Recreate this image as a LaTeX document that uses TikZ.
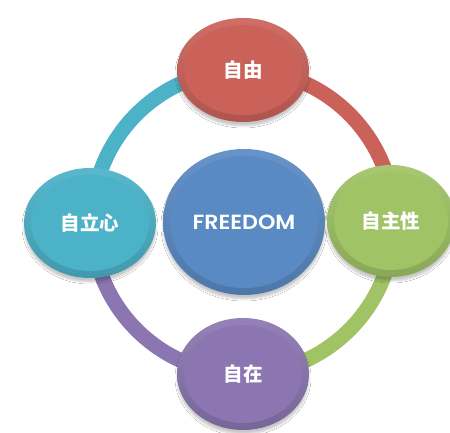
\documentclass[tikz,border=0pt]{standalone}
\usepackage{fontspec}
\newfontfamily\cjk{Noto Sans CJK SC}
\newfontfamily\latinf{Poppins}[UprightFont={* SemiBold}]
\usetikzlibrary{shapes.geometric,shadows.blur}
\definecolor{cRed}{HTML}{CB625A}
\definecolor{cBlue}{HTML}{5A8AC4}
\definecolor{cCyan}{HTML}{4BB2C8}
\definecolor{cGreen}{HTML}{A0C365}
\definecolor{cPurple}{HTML}{8B76B1}
\tikzset{
  bubble/.style n args={3}{ellipse, inner sep=0pt,
    minimum width=2*#2, minimum height=2*#3,
    top color=#1!92!white, bottom color=#1!86!black,
    blur shadow={shadow xshift=0pt, shadow yshift=-4pt, shadow blur steps=6, shadow blur radius=2pt, shadow opacity=22},
    path picture={\fill[#1] (path picture bounding box.center) ellipse[x radius=#2-7pt, y radius=#3-7pt];},
    text=white, font=\cjk\bfseries\fontsize{19.5}{22}\selectfont},
  ring/.style={line width=15pt}
}
\begin{document}
\begin{tikzpicture}[x=1pt,y=1pt]
\useasboundingbox (0,0) rectangle (450,433);
\fill[white] (0,0) rectangle (450,433);
\coordinate (pT) at (243,363);
\coordinate (pL) at (92,211);
\coordinate (pR) at (394,211);
\coordinate (pB) at (243,59);
% ring
\draw[ring, cCyan] (pL) arc[start angle=180, end angle=90, x radius=151, y radius=152];
\draw[ring, cRed] (pT) arc[start angle=90, end angle=0, x radius=151, y radius=152];
\draw[ring, cGreen] (pR) arc[start angle=0, end angle=-90, x radius=151, y radius=152];
\draw[ring, cPurple] (pB) arc[start angle=270, end angle=180, x radius=151, y radius=152];
% nodes
\node[bubble={cRed}{66pt}{52pt}] (T) at (pT) {自由};
\node[bubble={cCyan}{66pt}{55pt}] (L) at (90,210) {自立心};
\node[bubble={cGreen}{64pt}{56pt}] (R) at (391,212) {自主性};
\node[bubble={cPurple}{66pt}{56pt}] (B) at (243,59) {自在};
\node[bubble={cBlue}{81pt}{73pt}, font=\latinf\fontsize{20.5}{24}\selectfont] (C) at (244,211) {\scalebox{1.08}[1]{FREEDOM}};
\end{tikzpicture}
\end{document}
